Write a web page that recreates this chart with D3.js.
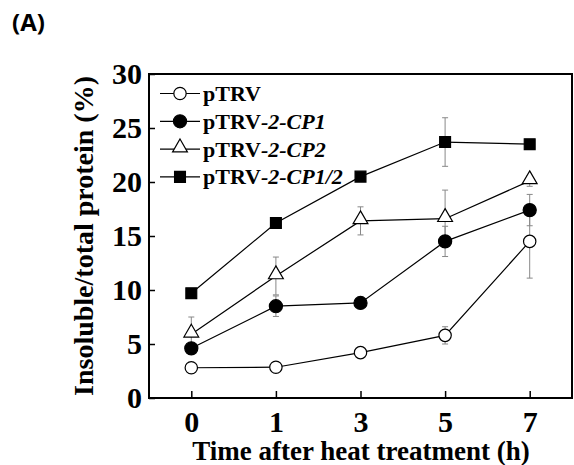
<!DOCTYPE html>
<html>
<head>
<meta charset="utf-8">
<script src="https://cdn.jsdelivr.net/npm/d3@7"></script>
<style>
  body { margin: 0; background: #fff; }
  svg text { font-family: 'Liberation Serif', 'Times New Roman', serif; font-weight: bold; }
</style>
</head>
<body>
<svg id="canvas" width="574" height="465"></svg>
<script>
// x categories (h after heat treatment)
let times = ['0', '1', '3', '5', '7']
let yTicks = [0, 5, 10, 15, 20, 25, 30]

// series values (%) and error bars
let pTRV = [2.8, 2.85, 4.2, 5.8, 14.5]
let pTRVErr = [0.5, 0.4, 0.2, 0.8, 3.4]
let cp1 = [4.6, 8.5, 8.8, 14.5, 17.4]
let cp1Err = [0.3, 0.95, 0.3, 1.4, 1.45]
let cp2 = [5.9, 11.3, 16.4, 16.6, 20.1]
let cp2Err = [1.6, 1.75, 1.3, 2.65, 0.5]
let cp12 = [9.7, 16.2, 20.5, 23.7, 23.5]
let cp12Err = [0.2, 0.2, 0.2, 2.25, 0.2]

let seriesList = [
    { name: 'pTRV', suffix: '', values: pTRV, err: pTRVErr, shape: 'circle', fill: '#fff' },
    { name: 'pTRV', suffix: '-2-CP1', values: cp1, err: cp1Err, shape: 'circle', fill: '#000' },
    { name: 'pTRV', suffix: '-2-CP2', values: cp2, err: cp2Err, shape: 'triangle', fill: '#fff' },
    { name: 'pTRV', suffix: '-2-CP1/2', values: cp12, err: cp12Err, shape: 'square', fill: '#000' }
]

let canvas = d3.select('#canvas')

let plotLeft = 149, plotRight = 572, plotTop = 74, plotBottom = 398

let x = d3.scalePoint().domain(times).range([plotLeft, plotRight]).padding(0.5)
let y = d3.scaleLinear().domain([0, 30]).range([plotBottom, plotTop])

let symbolFor = (shape, filled) => {
    if (shape === 'circle') return d3.symbol().type(d3.symbolCircle).size(filled ? 135 : 120)
    if (shape === 'triangle') return d3.symbol().type(d3.symbolTriangle).size(95)
    return d3.symbol().type(d3.symbolSquare).size(118)
}

// "(A)" panel label
canvas.append('text')
    .attr('x', 12).attr('y', 31)
    .style('font-family', "'Open Sans', 'Liberation Sans', sans-serif")
    .style('font-size', '24px')
    .text('(A)')

// error bars first (grey), then lines, then markers
seriesList.forEach((s) => {
    let g = canvas.append('g')
    s.values.forEach((v, i) => {
        let cx = x(times[i])
        let e = s.err[i]
        g.append('line')
            .attr('x1', cx).attr('x2', cx)
            .attr('y1', y(v - e)).attr('y2', y(v + e))
            .attr('stroke', '#888').attr('stroke-width', 1)
        ;[v - e, v + e].forEach((ev) => {
            g.append('line')
                .attr('x1', cx - 3).attr('x2', cx + 3)
                .attr('y1', y(ev)).attr('y2', y(ev))
                .attr('stroke', '#888').attr('stroke-width', 1)
        })
    })
})

seriesList.forEach((s) => {
    let line = d3.line()
        .x((d, i) => x(times[i]))
        .y((d) => y(d))
    canvas.append('path')
        .datum(s.values)
        .attr('d', line)
        .attr('fill', 'none')
        .attr('stroke', '#000')
        .attr('stroke-width', 1.2)
})

seriesList.forEach((s) => {
    let filled = s.fill === '#000'
    canvas.append('g').selectAll('path')
        .data(s.values)
        .enter()
        .append('path')
        .attr('d', symbolFor(s.shape, filled))
        .attr('transform', (d, i) => {
            let dy = s.shape === 'triangle' ? -1.5 : 0
            return 'translate(' + x(times[i]) + ',' + (y(d) + dy) + ')'
        })
        .attr('fill', s.fill)
        .attr('stroke', '#000')
        .attr('stroke-width', 1.2)
})

// frame
canvas.append('rect')
    .attr('x', plotLeft).attr('y', plotTop)
    .attr('width', plotRight - plotLeft).attr('height', plotBottom - plotTop)
    .attr('fill', 'none')
    .attr('stroke', '#000')
    .attr('stroke-width', 2)

// axes with inward ticks
let xAxis = d3.axisBottom(x).tickSize(-7).tickPadding(13)
let gx = canvas.append('g')
    .attr('transform', 'translate(0,' + plotBottom + ')')
    .call(xAxis)
gx.select('.domain').remove()
gx.selectAll('line').attr('stroke-width', 1.5)
gx.selectAll('text')
    .style('font-family', "'Liberation Serif', serif")
    .style('font-size', '30px')
    .attr('fill', '#000')

let yAxis = d3.axisLeft(y).tickValues(yTicks).tickSize(-6).tickPadding(7)
let gy = canvas.append('g')
    .attr('transform', 'translate(' + plotLeft + ',0)')
    .call(yAxis)
gy.select('.domain').remove()
gy.selectAll('line').attr('stroke-width', 1.5)
gy.selectAll('text')
    .style('font-family', "'Liberation Serif', serif")
    .style('font-size', '30px')
    .attr('fill', '#000')

// axis titles
canvas.append('text')
    .attr('x', 361).attr('y', 460)
    .attr('text-anchor', 'middle')
    .style('font-size', '27px')
    .text('Time after heat treatment (h)')

canvas.append('text')
    .attr('transform', 'translate(93,' + ((plotTop + plotBottom) / 2) + ') rotate(-90)')
    .attr('text-anchor', 'middle')
    .style('font-size', '28px')
    .text('Insoluble/total protein (%)')

// legend
let legend = canvas.append('g')
seriesList.forEach((s, i) => {
    let ly = 93.5 + i * 27.8
    legend.append('line')
        .attr('x1', 160).attr('x2', 200)
        .attr('y1', ly).attr('y2', ly)
        .attr('stroke', '#000').attr('stroke-width', 1.2)
    legend.append('path')
        .attr('d', symbolFor(s.shape, s.fill === '#000'))
        .attr('transform', 'translate(180,' + (ly + (s.shape === 'triangle' ? -1.5 : 0)) + ')')
        .attr('fill', s.fill)
        .attr('stroke', '#000')
        .attr('stroke-width', 1.2)
    let t = legend.append('text')
        .attr('x', 203).attr('y', ly + 7.5)
        .style('font-size', '22px')
    t.append('tspan').text(s.name)
    if (s.suffix) {
        t.append('tspan').style('font-style', 'italic').text(s.suffix)
    }
})
</script>
</body>
</html>
